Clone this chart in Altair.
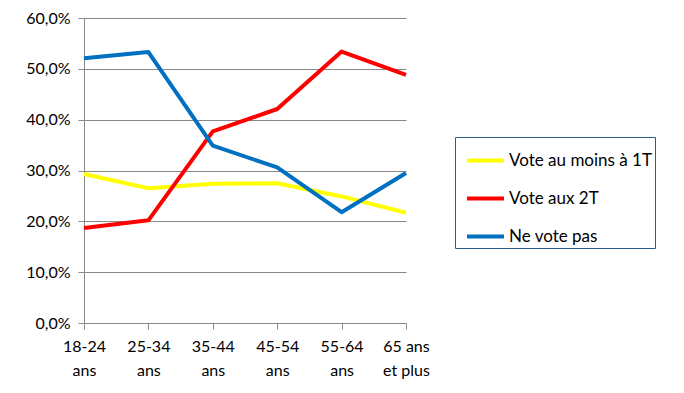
import altair as alt
import pandas as pd

categories = ["18-24|ans", "25-34|ans", "35-44|ans", "45-54|ans", "55-64|ans", "65 ans|et plus"]
series_names = ["Vote au moins à 1T", "Vote aux 2T", "Ne vote pas"]
vote_1t = [0.293, 0.265, 0.274, 0.275, 0.249, 0.217]
vote_2t = [0.187, 0.202, 0.377, 0.421, 0.534, 0.488]
ne_vote = [0.521, 0.533, 0.349, 0.306, 0.218, 0.295]
colors = ["#FFFF00", "#FF0000", "#0070C0"]

rows = []
for name, vals in zip(series_names, [vote_1t, vote_2t, ne_vote]):
    for c, v in zip(categories, vals):
        rows.append({"age": c, "serie": name, "value": v})
df = pd.DataFrame(rows)

font = "Lato"

chart = alt.Chart(df).mark_line(strokeWidth=4, strokeJoin="round").encode(
    x=alt.X("age:N", sort=categories, scale=alt.Scale(type="point", padding=0),
            axis=alt.Axis(title=None, labelAngle=0, grid=False, domain=False,
                          tickColor="#888888", tickSize=6, labelFont=font, labelFontSize=16,
                          labelColor="black", labelPadding=9, labelLineHeight=24,
                          labelExpr="split(datum.label, '|')", labelBaseline="top")),
    y=alt.Y("value:Q", scale=alt.Scale(domain=[0, 0.6], nice=False),
            axis=alt.Axis(title=None, values=[0, 0.1, 0.2, 0.3, 0.4, 0.5, 0.6],
                          labelExpr="replace(format(datum.value, '.1%'), '.', ',')",
                          gridColor="#888888", gridWidth=1, domainColor="#888888",
                          tickColor="#888888", tickSize=6, labelFont=font, labelFontSize=16,
                          labelColor="black", labelPadding=8)),
    color=alt.Color("serie:N", sort=series_names,
                    scale=alt.Scale(domain=series_names, range=colors),
                    legend=alt.Legend(title=None, orient="none", legendX=371, legendY=119,
                                      symbolType="stroke", symbolStrokeWidth=4, symbolSize=1369,
                                      labelFont=font, labelFontSize=17, labelColor="black",
                                      strokeColor="#2E5C8A", padding=3, rowPadding=9,
                                      labelOffset=3, symbolOffset=7)),
).properties(
    width=322, height=305,
    padding={"left": 76, "top": 10, "right": 270, "bottom": 62},
    autosize=alt.AutoSizeParams(type="none"),
).configure_view(stroke=None)

chart.save("out.html", embed_options={"renderer": "svg", "actions": False})
